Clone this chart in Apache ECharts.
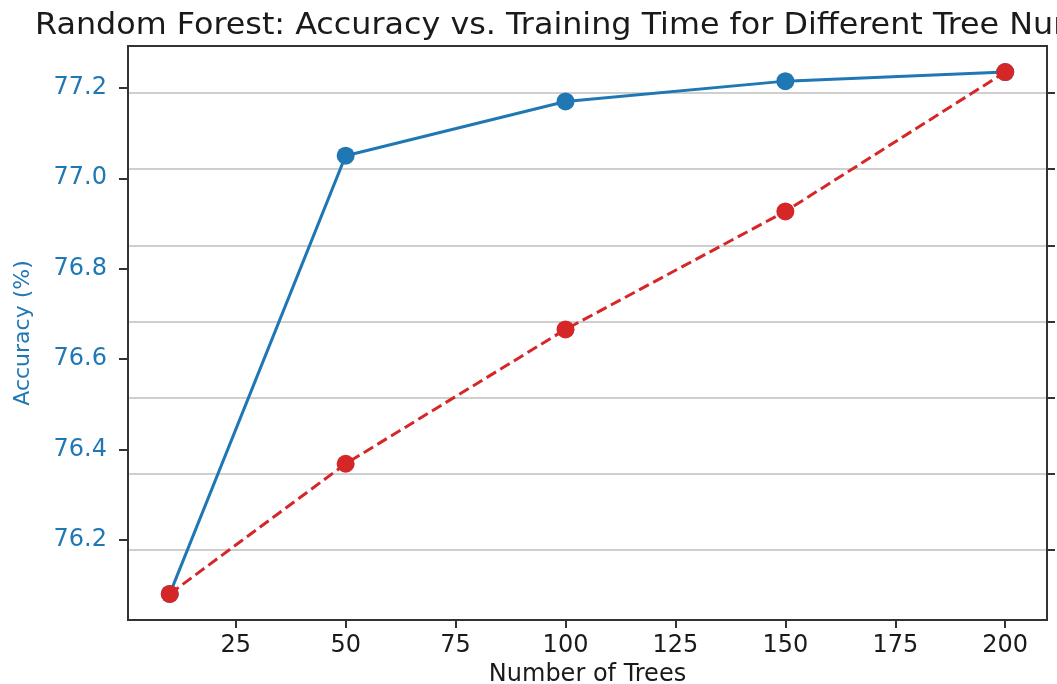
<!DOCTYPE html>
<html>
<head>
<meta charset="utf-8">
<script src="https://cdn.jsdelivr.net/npm/echarts@6/dist/echarts.min.js"></script>
<style>
html,body{margin:0;padding:0;background:#fff;}
#chart{width:1057px;height:684px;}
</style>
</head>
<body>
<div id="chart"></div>
<script>
const titleText = 'Random Forest: Accuracy vs. Training Time for Different Tree Numbers';
const trees = [10, 50, 100, 150, 200];
const accuracy = [76.08, 77.05, 77.17, 77.215, 77.235];
const trainTime = [0.84, 4.26, 7.79, 10.89, 14.55];
const xTicks = [25, 50, 75, 100, 125, 150, 175, 200];
const accTicks = [76.2, 76.4, 76.6, 76.8, 77.0, 77.2];
const timeTicks = [2, 4, 6, 8, 10, 12, 14];

function padded(arr) {
  const lo = Math.min.apply(null, arr), hi = Math.max.apply(null, arr);
  const m = (hi - lo) * 0.05;
  return [lo - m, hi + m];
}
const xr = padded(trees), ar = padded(accuracy), tr = padded(trainTime);

const BLUE = '#1f77b4', RED = '#d62728', AX = '#333333';
const FONT = 'DejaVu Sans';

const chart = echarts.init(document.getElementById('chart'));
chart.setOption({
  animation: false,
  backgroundColor: '#ffffff',
  graphic: [{
    type: 'text', x: 35, y: 11, scaleX: 1.06, scaleY: 1, originX: 0, originY: 0,
    style: {text: titleText, fontFamily: FONT, fontSize: 30, fill: '#1a1a1a', textAlign: 'left', textVerticalAlign: 'top'}
  }],
  grid: {left: 128, right: 10, top: 46, bottom: 64, outerBoundsMode: 'none', containLabel: false,
    show: true, borderColor: AX, borderWidth: 2, backgroundColor: 'transparent'},
  xAxis: {
    type: 'value', min: xr[0], max: xr[1],
    name: 'Number of Trees', nameLocation: 'middle', nameGap: 40,
    nameTextStyle: {fontFamily: FONT, fontSize: 24, color: '#1a1a1a'},
    axisLine: {lineStyle: {color: AX, width: 2}},
    axisTick: {show: true, length: 8, lineStyle: {color: AX, width: 2}, customValues: xTicks},
    axisLabel: {customValues: xTicks, margin: 14, fontFamily: FONT, fontSize: 24, color: '#1a1a1a'},
    splitLine: {show: false}
  },
  yAxis: [{
    type: 'value', position: 'left', min: ar[0], max: ar[1],
    name: 'Accuracy (%)', nameLocation: 'middle', nameGap: 94, nameRotate: 90,
    nameTextStyle: {fontFamily: FONT, fontSize: 22, color: BLUE},
    axisLine: {show: true, lineStyle: {color: AX, width: 2}},
    axisTick: {show: true, length: 9, lineStyle: {color: AX, width: 2}, customValues: accTicks},
    axisLabel: {customValues: accTicks, margin: 21, fontFamily: FONT, fontSize: 24, color: BLUE,
      formatter: v => v.toFixed(1)},
    splitLine: {show: false}
  }, {
    type: 'value', position: 'right', min: tr[0], max: tr[1],
    axisLine: {show: true, lineStyle: {color: AX, width: 2}},
    axisTick: {show: true, length: 8, lineStyle: {color: AX, width: 2}, customValues: timeTicks},
    axisLabel: {show: false, customValues: timeTicks},
    splitLine: {show: true, lineStyle: {color: '#cfcfcf', width: 2}}
  }],
  series: [{
    type: 'line', xAxisIndex: 0, yAxisIndex: 0,
    data: trees.map((t, i) => [t, accuracy[i]]),
    symbol: 'circle', symbolSize: 18,
    itemStyle: {color: BLUE},
    lineStyle: {color: BLUE, width: 3},
    z: 3
  }, {
    type: 'line', xAxisIndex: 0, yAxisIndex: 1,
    data: trees.map((t, i) => [t, trainTime[i]]),
    symbol: 'circle', symbolSize: 18,
    itemStyle: {color: RED},
    lineStyle: {color: RED, width: 3, type: [11, 5]},
    z: 4
  }]
});
</script>
</body>
</html>
